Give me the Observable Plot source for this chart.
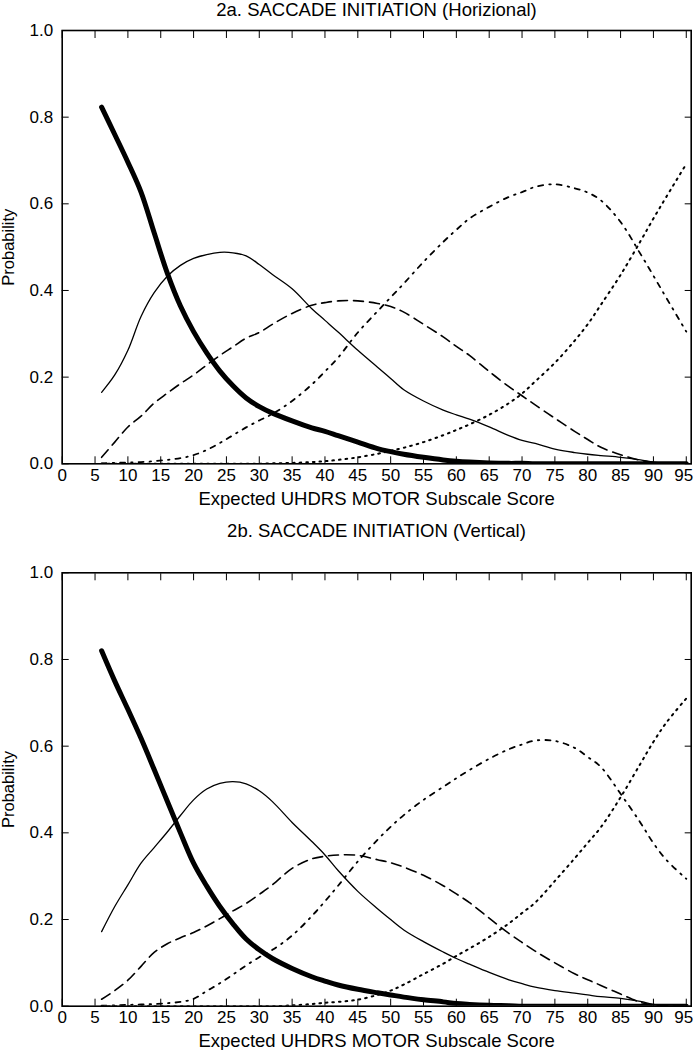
<!DOCTYPE html>
<html><head><meta charset="utf-8">
<script src="https://cdn.jsdelivr.net/npm/d3@7"></script>
<script src="https://cdn.jsdelivr.net/npm/@observablehq/plot@0.6"></script>
<style>
body{margin:0;background:#fff;}
#wrap{position:relative;width:694px;height:1050px;font-family:"Liberation Sans",Arial,sans-serif;color:#000;}
.ttl{position:absolute;left:62px;width:629px;text-align:center;font-size:18.5px;line-height:20px;z-index:2;white-space:nowrap;}
.pn{position:absolute;left:0;}
</style></head><body>
<div id="wrap">
 <div class="pn" id="p1" style="top:0"></div>
 <div class="pn" id="p2" style="top:520px"></div>
 <div class="ttl" id="t1" style="top:0px"></div>
 <div class="ttl" id="t2" style="top:521px"></div>
</div>
<script>
// ---- text ----
const titles = ["2a. SACCADE INITIATION (Horizional)", "2b. SACCADE INITIATION (Vertical)"];
const xLabel = "Expected UHDRS MOTOR Subscale Score";
const yLabel = "Probability";
const xTicks = [0,5,10,15,20,25,30,35,40,45,50,55,60,65,70,75,80,85,90,95];
const yTicks = [0,0.2,0.4,0.6,0.8,1.0];
const seriesNames = ["0","1","2","3","4"];

// ---- x grid (expected UHDRS motor score) ----
const scores = [6,8,10,12,14,16,18,20,22,24,26,28,30,32,35,38,40,42,45,48,50,52,55,58,60,62,65,68,70,72,75,78,80,82,85,88,90,92,95];

// ---- 2a Horizontal ----
const h0 = [0.823,0.76,0.696,0.627,0.533,0.44,0.364,0.305,0.256,0.214,0.18,0.152,0.132,0.117,0.099,0.083,0.075,0.065,0.05,0.035,0.028,0.022,0.015,0.009,0.006,0.004,0.002,0.001,0.001,0,0,0,0,0,0,0,0,0,0];
const h1 = [0.165,0.205,0.262,0.34,0.395,0.433,0.458,0.474,0.483,0.488,0.487,0.48,0.46,0.437,0.404,0.358,0.331,0.304,0.262,0.223,0.197,0.171,0.145,0.124,0.113,0.103,0.085,0.065,0.054,0.047,0.034,0.026,0.022,0.019,0.015,0.009,0.004,0.001,0];
const h2 = [0.015,0.05,0.085,0.11,0.14,0.163,0.185,0.205,0.228,0.25,0.27,0.29,0.303,0.322,0.347,0.366,0.372,0.376,0.376,0.37,0.363,0.35,0.322,0.293,0.271,0.25,0.213,0.178,0.157,0.136,0.105,0.075,0.056,0.038,0.021,0.008,0.003,0.001,0];
const h3 = [0.001,0.002,0.003,0.004,0.006,0.009,0.013,0.02,0.032,0.048,0.066,0.084,0.1,0.115,0.145,0.183,0.213,0.245,0.303,0.352,0.384,0.416,0.466,0.512,0.54,0.566,0.593,0.616,0.627,0.639,0.645,0.636,0.626,0.608,0.558,0.485,0.434,0.382,0.305];
const h4 = [0,0,0,0,0,0,0,0,0,0,0,0,0,0.001,0.002,0.004,0.006,0.009,0.015,0.023,0.03,0.037,0.05,0.066,0.078,0.091,0.113,0.14,0.162,0.19,0.233,0.284,0.322,0.367,0.436,0.513,0.566,0.617,0.692];

// ---- 2b Vertical ----
const v0 = [0.82,0.75,0.685,0.618,0.546,0.473,0.4,0.33,0.277,0.23,0.19,0.155,0.13,0.11,0.087,0.068,0.058,0.049,0.039,0.031,0.026,0.021,0.015,0.01,0.006,0.004,0.002,0.001,0,0,0,0,0,0,0,0,0,0,0];
const v1 = [0.172,0.23,0.28,0.33,0.366,0.402,0.44,0.476,0.501,0.514,0.518,0.513,0.497,0.472,0.424,0.38,0.349,0.313,0.265,0.225,0.2,0.176,0.149,0.125,0.11,0.097,0.078,0.061,0.052,0.044,0.036,0.03,0.026,0.022,0.018,0.011,0.004,0.001,0];
const v2 = [0.016,0.036,0.06,0.092,0.124,0.144,0.158,0.17,0.185,0.202,0.22,0.237,0.258,0.28,0.318,0.34,0.346,0.349,0.348,0.338,0.331,0.321,0.302,0.278,0.259,0.239,0.203,0.168,0.147,0.127,0.1,0.075,0.061,0.048,0.028,0.009,0.003,0.001,0];
const v3 = [0.001,0.002,0.003,0.004,0.005,0.007,0.01,0.017,0.035,0.053,0.073,0.094,0.113,0.13,0.163,0.208,0.242,0.278,0.334,0.384,0.414,0.441,0.476,0.506,0.526,0.545,0.571,0.593,0.604,0.613,0.612,0.596,0.575,0.552,0.49,0.424,0.376,0.337,0.294];
const v4 = [0,0,0,0,0,0,0,0,0,0,0,0,0,0,0.002,0.005,0.008,0.01,0.015,0.026,0.036,0.05,0.074,0.098,0.116,0.133,0.16,0.191,0.215,0.239,0.289,0.341,0.377,0.413,0.482,0.559,0.61,0.655,0.71];

// ---- line styles per series ----
const styles = [
  {strokeWidth: 5},
  {strokeWidth: 1.3},
  {strokeWidth: 1.6, strokeDasharray: "10,6"},
  {strokeWidth: 1.8, strokeDasharray: "5,6,1.5,6"},
  {strokeWidth: 2, strokeDasharray: "1.6,5"}
];

const lastTick = xTicks[xTicks.length - 1];

function panel(values, {height, marginTop, marginBottom}) {
  const rows = values.flatMap((vals, k) => scores.map((x, i) => ({x, p: vals[i], k: seriesNames[k]})));
  const lines = seriesNames.map((name, k) =>
    Plot.line(rows.filter(d => d.k === name), {x: "x", y: "p", curve: "catmull-rom", clip: true, stroke: "black", strokeLinejoin: "round", ...styles[k]})
  );
  return Plot.plot({
    width: 694, height,
    marginLeft: 61.7, marginRight: 3.3, marginTop, marginBottom,
    style: {fontFamily: '"Liberation Sans", Arial, sans-serif', color: "black", background: "white"},
    x: {domain: [0, 95.75], axis: null},
    y: {domain: [0, 1], axis: null},
    marks: [
      ...lines,
      Plot.axisX(xTicks, {anchor: "bottom", tickSize: -7, tickPadding: 12, fontSize: 17, label: null, tickFormat: d => d === lastTick ? "" : String(d)}),
      Plot.text([lastTick], {x: d => d, frameAnchor: "bottom", lineAnchor: "top", textAnchor: "end", dy: 5, dx: 7, fontSize: 17, text: d => String(d)}),
      Plot.axisX(xTicks, {anchor: "top", tickSize: -7, label: null, tickFormat: () => ""}),
      Plot.axisY(yTicks, {anchor: "left", tickSize: -7, tickPadding: 16, fontSize: 17, label: null, tickFormat: d => d.toFixed(1)}),
      Plot.axisY(yTicks, {anchor: "right", tickSize: -7, label: null, tickFormat: () => ""}),
      Plot.frame({stroke: "black", strokeWidth: 1.6}),
      Plot.text([xLabel], {frameAnchor: "bottom", lineAnchor: "middle", dy: 35, fontSize: 18.5, text: d => d}),
      Plot.text([yLabel], {frameAnchor: "left", textAnchor: "middle", lineAnchor: "middle", dx: -53, rotate: -90, fontSize: 16.5, text: d => d})
    ]
  });
}

document.getElementById("p1").append(panel([h0,h1,h2,h3,h4], {height: 520, marginTop: 30, marginBottom: 56.7}));
document.getElementById("p2").append(panel([v0,v1,v2,v3,v4], {height: 530, marginTop: 52.3, marginBottom: 44.3}));
document.getElementById("t1").textContent = titles[0];
document.getElementById("t2").textContent = titles[1];
</script>
</body></html>
